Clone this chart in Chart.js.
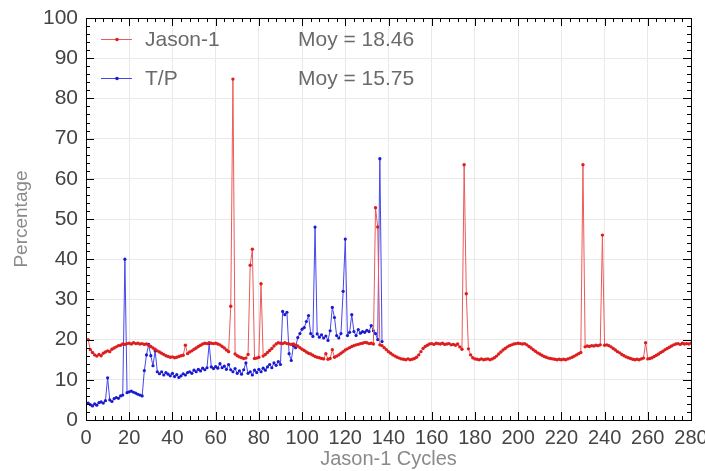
<!DOCTYPE html>
<html>
<head>
<meta charset="utf-8">
<script src="https://cdn.jsdelivr.net/npm/chart.js@4.4.1/dist/chart.umd.min.js"></script>
<style>
html,body{margin:0;padding:0;background:#fff;}
#wrap{width:705px;height:471px;}
</style>
</head>
<body>
<div id="wrap"><canvas id="c" width="705" height="471"></canvas></div>
<script>
// Jason-1 cycles 1..281
const jasonValues = [
20.0,17.5,16.8,16.2,15.9,16.3,16.0,16.6,16.9,17.2,
17.0,17.6,17.9,18.2,18.5,18.6,18.9,18.8,19.0,19.1,
18.9,19.2,19.0,19.1,18.9,19.0,18.8,18.9,18.6,18.3,
17.9,17.6,17.2,16.9,16.6,16.3,16.0,15.8,15.6,15.7,
15.5,15.6,15.8,16.0,16.1,18.6,16.5,16.9,17.2,17.6,
17.9,18.3,18.6,18.9,19.1,19.0,19.2,19.1,19.0,19.1,
18.9,18.7,18.3,17.9,17.4,17.0,28.3,84.8,16.4,16.0,
15.7,15.5,15.3,15.4,16.3,38.5,42.5,15.3,15.4,15.6,
33.9,15.9,16.3,16.8,17.3,17.8,18.4,18.9,19.2,19.1,
19.0,19.2,19.0,18.9,18.8,18.9,18.6,18.4,18.0,17.6,
17.3,16.9,16.6,16.4,16.1,15.8,15.6,15.5,15.3,15.2,
16.5,15.1,15.3,17.5,15.6,15.9,16.2,16.6,17.0,17.4,
17.7,18.0,18.3,18.5,18.7,18.8,19.0,19.1,19.3,19.2,
19.0,19.1,18.9,52.8,48.0,18.7,18.5,18.0,17.5,17.0,
16.6,16.2,15.9,15.6,15.4,15.2,15.1,15.0,15.2,15.0,
15.1,15.3,15.6,16.2,17.0,17.8,18.3,18.6,18.9,19.0,
18.8,19.1,19.0,18.9,19.1,18.8,18.9,19.0,18.7,18.8,
18.6,18.9,18.2,17.6,63.5,31.4,17.7,16.2,15.5,15.2,
15.1,15.0,15.2,15.0,15.1,15.2,15.0,15.2,15.5,15.9,
16.4,16.9,17.4,17.8,18.2,18.5,18.7,18.9,19.0,19.1,
19.0,18.9,19.0,18.7,18.3,17.9,17.5,17.1,16.7,16.4,
16.1,15.8,15.6,15.4,15.3,15.2,15.1,15.0,15.1,15.0,
15.1,15.0,15.2,15.4,15.6,15.9,16.2,16.5,16.8,63.5,
18.2,18.4,18.3,18.5,18.4,18.6,18.5,18.7,46.0,18.6,
18.7,18.5,18.2,17.8,17.4,17.0,16.7,16.3,16.0,15.7,
15.5,15.3,15.1,15.0,15.1,15.0,15.2,15.4,19.2,15.2,
15.3,15.5,15.8,16.1,16.4,16.8,17.1,17.5,17.8,18.1,
18.4,18.7,18.9,19.0,18.8,19.1,18.9,19.0,18.9,19.1,
19.0
];
// T/P cycles 1..137
const tpValues = [
4.2,3.8,3.5,4.0,3.7,4.3,4.5,4.2,4.8,10.5,
5.0,4.6,5.3,5.6,5.4,6.0,6.2,40.0,6.8,7.0,
7.2,6.9,6.7,6.4,6.2,6.0,12.3,16.2,18.8,16.0,
13.5,17.2,12.0,11.5,12.0,11.2,11.8,11.4,11.0,11.6,
10.8,11.3,10.6,11.0,11.5,11.2,11.8,12.0,11.6,12.4,
12.0,12.6,12.2,12.9,12.5,13.0,19.0,13.2,12.8,13.3,
12.9,14.0,13.0,13.4,12.6,13.8,12.5,12.0,12.8,11.6,
12.2,11.4,12.5,14.2,11.6,12.0,11.2,12.4,11.8,12.6,
12.0,12.9,12.4,13.2,13.8,13.0,14.2,13.6,14.5,13.8,
27.0,26.2,26.8,16.5,14.8,18.5,18.0,20.5,21.5,22.6,
23.0,24.5,26.0,21.5,20.8,48.0,21.4,20.6,21.2,20.4,
20.9,19.8,22.2,28.0,25.5,21.0,20.4,21.5,32.0,45.0,
21.0,21.8,26.2,22.0,21.0,22.5,21.6,22.0,21.8,22.3,
22.0,23.5,22.2,21.5,20.0,65.0,19.5
];
const xTickLabels = [0,20,40,60,80,100,120,140,160,180,200,220,240,260,280];
const yTickLabels = [0,10,20,30,40,50,60,70,80,90,100];
const seriesNames = ['Jason-1','T/P'];
const meanTexts = ['Moy = 18.46','Moy = 15.75'];

const jasonData = jasonValues.map((v,i)=>({x:i+1,y:v}));
const tpData = tpValues.map((v,i)=>({x:i+1,y:v}));

const RED_LINE = 'rgb(236,90,90)';
const RED_PT = 'rgb(222,30,30)';
const BLUE_LINE = 'rgb(70,70,235)';
const BLUE_PT = 'rgb(25,25,210)';
const FONT = 'Liberation Sans, Arial, sans-serif';

const frameTicks = {
  id:'frameTicks',
  afterDraw(chart){
    const ctx = chart.ctx, a = chart.chartArea;
    const xs = chart.scales.x, ys = chart.scales.y;
    ctx.save();
    ctx.strokeStyle = '#000';
    ctx.lineWidth = 1;
    ctx.strokeRect(Math.round(a.left)+0.5, Math.round(a.top)+0.5, Math.round(a.right-a.left), Math.round(a.bottom-a.top));
    ctx.beginPath();
    for(let v=0; v<=280; v+=4){
      const px = Math.round(xs.getPixelForValue(v))+0.5;
      const len = (v%20===0)?8:4;
      ctx.moveTo(px,a.bottom); ctx.lineTo(px,a.bottom-len);
      ctx.moveTo(px,a.top); ctx.lineTo(px,a.top+len);
    }
    for(let v=0; v<=100; v+=2){
      const py = Math.round(ys.getPixelForValue(v))+0.5;
      const len = (v%10===0)?8:4;
      ctx.moveTo(a.left,py); ctx.lineTo(a.left+len,py);
      ctx.moveTo(a.right,py); ctx.lineTo(a.right-len,py);
    }
    ctx.stroke();
    ctx.restore();
  }
};

const legendPlugin = {
  id:'legendPlugin',
  afterDraw(chart){
    const ctx = chart.ctx;
    const rows = [
      {y:39, line:RED_LINE, pt:RED_PT},
      {y:78, line:BLUE_LINE, pt:BLUE_PT}
    ];
    ctx.save();
    rows.forEach((r,i)=>{
      ctx.strokeStyle = r.line; ctx.lineWidth = 1;
      ctx.beginPath(); ctx.moveTo(101,r.y+0.5); ctx.lineTo(132,r.y+0.5); ctx.stroke();
      ctx.fillStyle = r.pt;
      ctx.beginPath(); ctx.arc(117,r.y+0.5,1.8,0,Math.PI*2); ctx.fill();
      ctx.fillStyle = '#6a6a6a';
      ctx.font = '21px ' + FONT;
      ctx.textBaseline = 'middle';
      ctx.textAlign = 'left';
      ctx.fillText(seriesNames[i], 145, r.y+1);
      ctx.fillText(meanTexts[i], 298, r.y+1);
    });
    ctx.restore();
  }
};

new Chart(document.getElementById('c'), {
  type:'line',
  data:{
    datasets:[
      {label:'T/P', data:tpData, borderColor:BLUE_LINE, borderWidth:1, pointRadius:1.6, pointBackgroundColor:BLUE_PT, pointBorderColor:BLUE_PT, pointBorderWidth:0, tension:0, order:2},
      {label:'Jason-1', data:jasonData, borderColor:RED_LINE, borderWidth:1, pointRadius:1.7, pointBackgroundColor:RED_PT, pointBorderColor:RED_PT, pointBorderWidth:0, tension:0, order:1}
    ]
  },
  options:{
    responsive:false,
    animation:false,
    devicePixelRatio:1,
    layout:{padding:{top:18,right:14,left:0,bottom:0}},
    plugins:{legend:{display:false}, tooltip:{enabled:false}},
    scales:{
      x:{
        type:'linear', min:0, max:280,
        afterBuildTicks(s){ s.ticks = xTickLabels.map(v=>({value:v})); },
        afterFit(s){ s.height = 51; s.paddingLeft = 0; s.paddingRight = 0; },
        grid:{color:'#e9e9e9', drawTicks:false, lineWidth:1},
        border:{display:false},
        ticks:{autoSkip:false, maxRotation:0, padding:6, color:'#444', font:{family:FONT,size:20}},
        title:{display:true, text:'Jason-1 Cycles', color:'#8a8a8a', font:{family:FONT,size:20}, padding:{top:0,bottom:0}}
      },
      y:{
        type:'linear', min:0, max:100,
        afterBuildTicks(s){ s.ticks = yTickLabels.map(v=>({value:v})); },
        afterFit(s){ s.width = 86; s.paddingTop = 0; s.paddingBottom = 0; },
        grid:{color:'#e9e9e9', drawTicks:false, lineWidth:1},
        border:{display:false},
        ticks:{padding:8, color:'#444', font:{family:FONT,size:21}},
        title:{display:true, text:'Percentage', color:'#8a8a8a', font:{family:FONT,size:19}, padding:{top:10,bottom:0}}
      }
    }
  },
  plugins:[frameTicks, legendPlugin]
});
</script>
</body>
</html>
